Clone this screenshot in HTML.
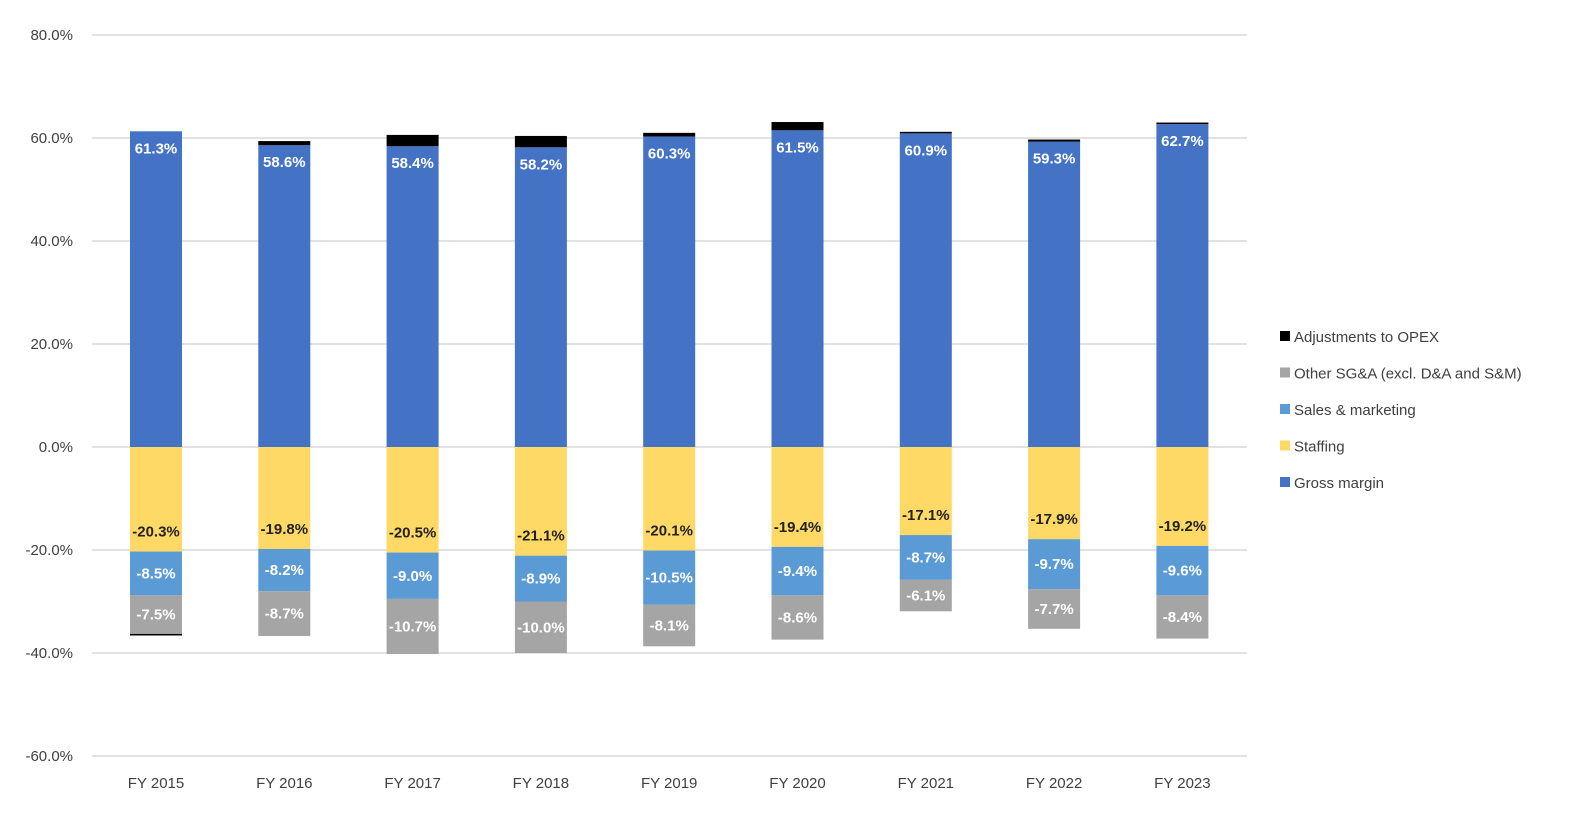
<!DOCTYPE html>
<html><head><meta charset="utf-8"><style>
body{margin:0;background:#fff;font-family:"Liberation Sans",sans-serif;}
svg text{font-family:"Liberation Sans",sans-serif;}
</style></head><body>
<svg id="chart" width="1590" height="832"></svg>
<script>
const categories=["FY 2015","FY 2016","FY 2017","FY 2018","FY 2019","FY 2020","FY 2021","FY 2022","FY 2023"];
const grossMargin=[61.3,58.6,58.4,58.2,60.3,61.5,60.9,59.3,62.7];
const staffing=[-20.3,-19.8,-20.5,-21.1,-20.1,-19.4,-17.1,-17.9,-19.2];
const salesMarketing=[-8.5,-8.2,-9.0,-8.9,-10.5,-9.4,-8.7,-9.7,-9.6];
const otherSGA=[-7.5,-8.7,-10.7,-10.0,-8.1,-8.6,-6.1,-7.7,-8.4];
const adjustments=[-0.3,0.8,2.2,2.2,0.7,1.6,0.3,0.4,0.3];
const yTicks=[80,60,40,20,0,-20,-40,-60];
const legendLabels=["Adjustments to OPEX","Other SG&A (excl. D&A and S&M)","Sales & marketing","Staffing","Gross margin"];
const legendColors=["#000000","#a5a5a5","#5b9bd5","#ffd966","#4472c4"];

const NS="http://www.w3.org/2000/svg";
const svg=document.getElementById('chart');
const y=v=>447-v*5.15;
const x=i=>156+i*128.3;
const bw=52;
function el(t,a){const e=document.createElementNS(NS,t);for(const k in a)e.setAttribute(k,a[k]);svg.appendChild(e);return e;}
yTicks.forEach(t=>{
  const g=el('line',{x1:92,x2:1247,y1:y(t),y2:y(t),stroke:'#d9d9d9','stroke-width':1.5});
  
  
  const tx=el('text',{x:73,y:y(t)+5,'text-anchor':'end','font-size':15,fill:'#404040'});
  tx.textContent=t.toFixed(1)+'%';
  
  
});
function seg(i,v0,v1,color,label,txtColor,name,txt){
  const top=Math.min(y(v0),y(v1)),h=Math.abs(y(v0)-y(v1));
  const r=el('rect',{x:x(i)-bw/2,y:top,width:bw,height:h,fill:color});
  
  
  if(label!==null){
    const t=el('text',{x:x(i),y:label,'text-anchor':'middle','font-size':15,'font-weight':'bold',fill:txtColor});
    t.textContent=txt;
    
    
  }
}
categories.forEach((c,i)=>{
  const gm=grossMargin[i];
  seg(i,0,gm,'#4472c4',y(gm)+22,'#fff','bar-gross-margin',gm.toFixed(1)+'%');
  if(adjustments[i]>0){seg(i,gm,gm+adjustments[i],'#000',null,'','bar-adjustments');}
  let s=staffing[i];
  seg(i,0,s,'#ffd966',y(s)-15,'#222','bar-staffing',s.toFixed(1)+'%');
  let b=s+salesMarketing[i];
  seg(i,s,b,'#5b9bd5',(y(s)+y(b))/2+5,'#fff','bar-sales-marketing',salesMarketing[i].toFixed(1)+'%');
  let o=b+otherSGA[i];
  seg(i,b,o,'#a5a5a5',(y(b)+y(o))/2+5,'#fff','bar-other-sga',otherSGA[i].toFixed(1)+'%');
  if(adjustments[i]<0){seg(i,o,o+adjustments[i],'#000',null,'','bar-adjustments');}
  const t=el('text',{x:x(i),y:788,'text-anchor':'middle','font-size':15,fill:'#404040'});
  t.textContent=c;
  
  
});
legendLabels.forEach((l,k)=>{
  const yy=336+k*36.5;
  const r=el('rect',{x:1280,y:yy-5,width:10,height:10,fill:legendColors[k]});
  
  
  const t=el('text',{x:1294,y:yy+6,'font-size':15,fill:'#404040'});
  t.textContent=l;
  
  
});
</script>
</body></html>
